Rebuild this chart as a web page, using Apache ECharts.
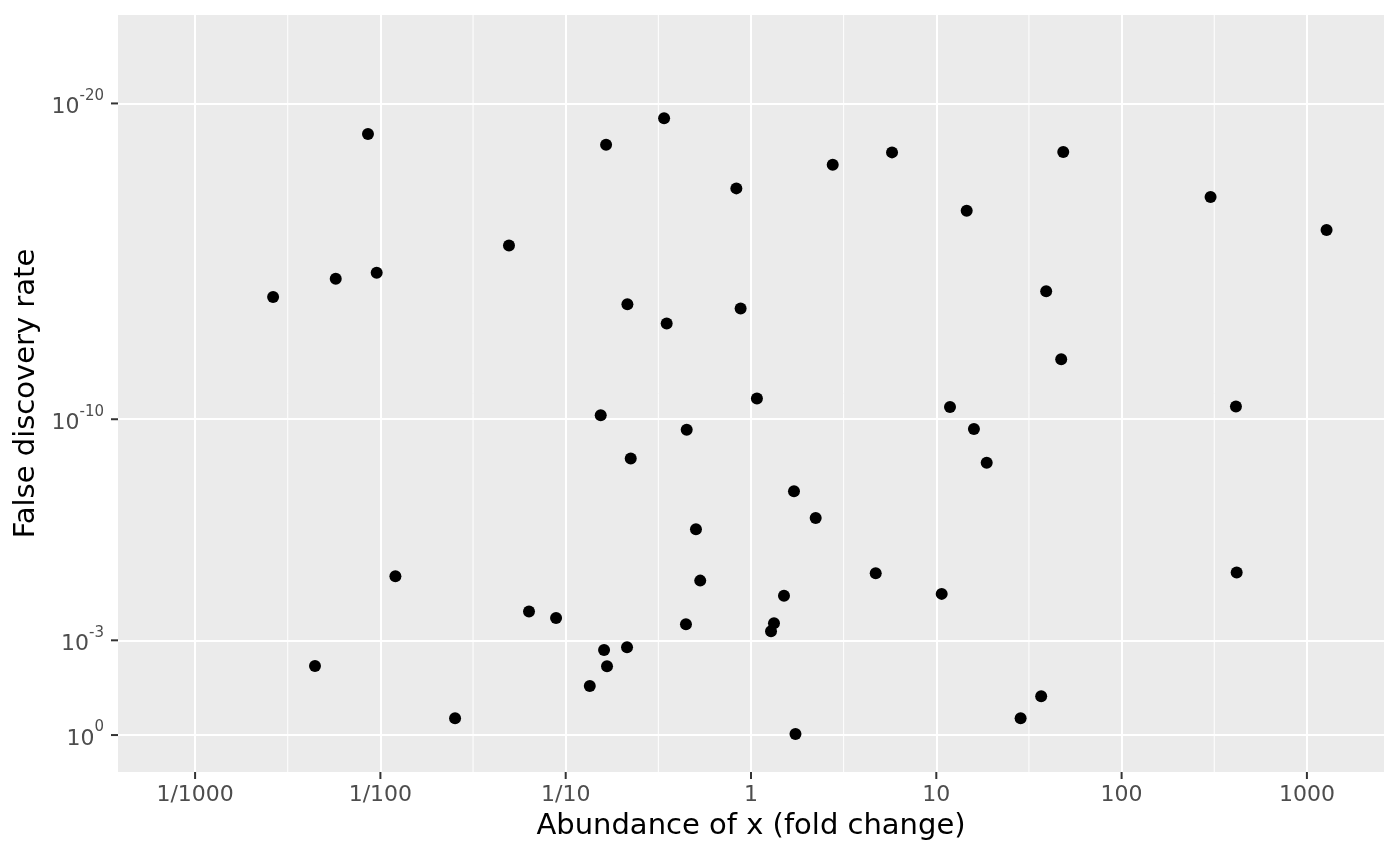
<!DOCTYPE html>
<html>
<head>
<meta charset="utf-8">
<script src="https://cdn.jsdelivr.net/npm/echarts@6/dist/echarts.min.js"></script>
<style>
  html, body { margin: 0; padding: 0; background: #fff; }
  #main { width: 1400px; height: 866px; }
</style>
</head>
<body>
<div id="main"></div>
<script>
// log10 of the fold change
var log10Fold = [
    -2.579, -2.353, -2.241, -2.067, -2.020, -1.919, -1.597, -1.306, -1.198, -1.052,
    -0.870, -0.811, -0.793, -0.782, -0.777, -0.669, -0.667, -0.649, -0.469, -0.455,
    -0.351, -0.347, -0.297, -0.274, -0.079, -0.056, 0.032, 0.108, 0.124, 0.178,
    0.232, 0.240, 0.349, 0.441, 0.673, 0.761, 1.029, 1.074, 1.164, 1.203,
    1.272, 1.455, 1.566, 1.593, 1.674, 1.685, 2.480, 2.617, 2.621, 3.106
];
// -log10 of the false discovery rate
var negLog10Fdr = [
    13.87, 2.19, 14.45, 19.03, 14.64, 5.03, 0.53, 15.50, 3.91, 3.71,
    1.55, 10.13, 2.69, 18.69, 2.18, 2.78, 13.64, 8.76, 19.53, 13.03,
    3.51, 9.67, 6.52, 4.89, 17.31, 13.51, 10.66, 3.29, 3.54, 4.41,
    7.72, 0.03, 6.87, 18.06, 5.12, 18.45, 4.47, 10.39, 16.60, 9.69,
    8.62, 0.53, 1.23, 14.05, 11.90, 18.46, 17.04, 10.40, 5.15, 15.99
];

var xTickValues = [-3, -2, -1, 0, 1, 2, 3];
var xTickLabels = ['1/1000', '1/100', '1/10', '1', '10', '100', '1000'];
var xMinorValues = [-2.5, -1.5, -0.5, 0.5, 1.5, 2.5];
var yTickValues = [0, 3, 10, 20];
var yTickExponents = ['0', '-3', '-10', '-20'];

var X_MIN = -3.416, X_MAX = 3.416;
var Y_MIN = -1.17, Y_MAX = 22.8;

var points = [];
for (var i = 0; i < log10Fold.length; i++) {
    points.push([log10Fold[i], negLog10Fdr[i]]);
}

var font = 'DejaVu Sans';
var tickLen = 7;
var tickStyle = { stroke: '#333333', lineWidth: 2 };
var chart = echarts.init(document.getElementById('main'), null, { renderer: 'canvas' });

// axis ticks drawn as short segments outside the panel
function renderXTick(params, api) {
    var p = api.coord([api.value(0), Y_MIN]);
    return { type: 'line', shape: { x1: p[0], y1: p[1], x2: p[0], y2: p[1] + tickLen }, style: tickStyle };
}
function renderYTick(params, api) {
    var p = api.coord([X_MIN, api.value(1)]);
    return { type: 'line', shape: { x1: p[0] - tickLen, y1: p[1], x2: p[0], y2: p[1] }, style: tickStyle };
}
// thin minor grid lines between the decades
function renderMinor(params, api) {
    var a = api.coord([api.value(0), Y_MIN]);
    var b = api.coord([api.value(0), Y_MAX]);
    return { type: 'line', shape: { x1: a[0], y1: a[1], x2: b[0], y2: b[1] }, style: { stroke: '#ffffff', lineWidth: 1 } };
}

var option = {
    animation: false,
    backgroundColor: '#ffffff',
    textStyle: { fontFamily: font },
    grid: {
        left: 118, right: 16, top: 15, bottom: 94,
        show: true, backgroundColor: '#EBEBEB', borderWidth: 0
    },
    xAxis: {
        type: 'value',
        position: 'bottom',
        min: X_MIN, max: X_MAX,
        name: 'Abundance of x (fold change)',
        nameLocation: 'middle',
        nameGap: 40,
        nameTextStyle: { color: '#000', fontSize: 29, fontFamily: font },
        axisLine: { show: false, onZero: false },
        axisTick: { show: false, customValues: xTickValues },
        axisLabel: {
            customValues: xTickValues,
            margin: 12,
            color: '#4D4D4D', fontSize: 22, fontFamily: font,
            formatter: function (v) {
                var k = xTickValues.indexOf(Math.round(v));
                return k >= 0 ? xTickLabels[k] : '';
            }
        },
        splitLine: { show: true, lineStyle: { color: '#ffffff', width: 2 } }
    },
    yAxis: {
        type: 'value',
        position: 'left',
        min: Y_MIN, max: Y_MAX,
        name: 'False discovery rate',
        nameLocation: 'middle',
        nameGap: 76,
        nameTextStyle: { color: '#000', fontSize: 29, fontFamily: font },
        axisLine: { show: false, onZero: false },
        axisTick: { show: false, customValues: yTickValues },
        axisLabel: {
            customValues: yTickValues,
            margin: 14,
            formatter: function (v) {
                var k = yTickValues.indexOf(Math.round(v));
                return k >= 0 ? '{b|10}{s|' + yTickExponents[k] + '}' : '';
            },
            rich: {
                b: { color: '#4D4D4D', fontSize: 22, fontFamily: font, lineHeight: 30, verticalAlign: 'bottom' },
                s: { color: '#4D4D4D', fontSize: 15, fontFamily: font, lineHeight: 30, verticalAlign: 'top' }
            }
        },
        splitLine: { show: true, lineStyle: { color: '#ffffff', width: 2 } }
    },
    series: [
        {
            type: 'custom',
            silent: true,
            clip: false,
            z: 1,
            renderItem: renderMinor,
            data: xMinorValues.map(function (v) { return [v, Y_MIN]; })
        },
        {
            type: 'scatter',
            data: points,
            symbol: 'circle',
            symbolSize: 12,
            z: 3,
            itemStyle: { color: '#000000', opacity: 1 }
        },
        {
            type: 'custom',
            silent: true,
            clip: false,
            z: 10,
            renderItem: renderXTick,
            data: xTickValues.map(function (v) { return [v, Y_MIN]; })
        },
        {
            type: 'custom',
            silent: true,
            clip: false,
            z: 10,
            renderItem: renderYTick,
            data: yTickValues.map(function (v) { return [X_MIN, v]; })
        }
    ]
};

chart.setOption(option);
window.addEventListener('resize', chart.resize);
</script>
</body>
</html>
